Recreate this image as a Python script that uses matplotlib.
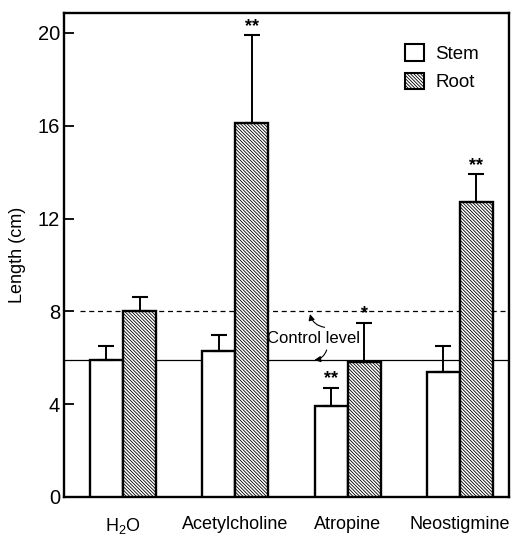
import matplotlib
matplotlib.use('agg')
import matplotlib.pyplot as plt
import numpy as np
from matplotlib.patches import Patch

plt.rcParams['font.family'] = ['Liberation Sans', 'DejaVu Sans']
plt.rcParams['mathtext.default'] = 'regular'
plt.rcParams['hatch.linewidth'] = 0.6

# data
groups = ["H$_2$O", "Acetylcholine", "Atropine", "Neostigmine"]
stem = [5.9, 6.3, 3.9, 5.4]
stem_err = [0.6, 0.7, 0.8, 1.1]
root = [8.0, 16.1, 5.8, 12.7]
root_err = [0.6, 3.8, 1.7, 1.2]
stem_marks = ["", "", "**", ""]
root_marks = ["", "**", "*", "**"]
control_stem = 5.9
control_root = 8.0

HATCH = '\\' * 10

fig = plt.figure(figsize=(5.25, 5.53), dpi=100)
ax = fig.add_axes([0.122, 0.1013, 0.8475, 0.8752])

x = np.arange(len(groups))
w = 0.294

ax.bar(x - w / 2, stem, w, color='white', edgecolor='black', linewidth=1.7,
       yerr=[np.zeros(4), stem_err], capsize=6,
       error_kw=dict(elinewidth=1.4, capthick=1.5), label='Stem', zorder=3)
ax.bar(x + w / 2, root, w, color='white', edgecolor='black', linewidth=1.7,
       hatch=HATCH, yerr=[np.zeros(4), root_err], capsize=6,
       error_kw=dict(elinewidth=1.4, capthick=1.5), label='Root', zorder=3)

# significance marks
for i in range(4):
    if stem_marks[i]:
        ax.text(x[i] - w / 2, stem[i] + stem_err[i] + 0.02, stem_marks[i],
                ha='center', va='bottom', fontsize=13, fontweight='bold')
    if root_marks[i]:
        ax.text(x[i] + w / 2, root[i] + root_err[i] + 0.02, root_marks[i],
                ha='center', va='bottom', fontsize=13, fontweight='bold')

# control levels
ax.plot([-0.52, 3.44], [control_stem, control_stem], color='black', lw=0.9, zorder=1)
ax.plot([-0.38, 3.44], [control_root, control_root], color='black', lw=0.9,
        ls=(0, (4, 3)), zorder=1)
ax.text(1.7, 6.85, "Control level", ha='center', va='center', fontsize=12)
ax.annotate("", xy=(1.66, control_root), xytext=(1.82, 7.3),
            arrowprops=dict(arrowstyle='-|>', color='black', lw=0.8,
                            connectionstyle='arc3,rad=-0.4', mutation_scale=9))
ax.annotate("", xy=(1.68, control_stem), xytext=(1.82, 6.45),
            arrowprops=dict(arrowstyle='-|>', color='black', lw=0.8,
                            connectionstyle='arc3,rad=-0.4', mutation_scale=9))

ax.set_xlim(-0.525, 3.437)
ax.set_ylim(0, 20.86)
ax.set_yticks([0, 4, 8, 12, 16, 20])
ax.set_xticks(x)
ax.set_xticklabels(groups)
ax.tick_params(axis='x', length=0, pad=14, labelsize=13)
ax.tick_params(axis='y', direction='in', length=7, width=1.3, labelsize=14.5, pad=3)
for s in ax.spines.values():
    s.set_linewidth(1.7)
ax.set_ylabel("Length (cm)", fontsize=13, labelpad=8)

handles = [Patch(facecolor='white', edgecolor='black', lw=1.5, label='Stem'),
           Patch(facecolor='white', edgecolor='black', lw=1.5, hatch=HATCH, label='Root')]
ax.legend(handles=handles, loc='upper right', bbox_to_anchor=(0.97, 0.97),
          frameon=False, fontsize=13.5, handlelength=1.0, handleheight=1.0,
          handletextpad=0.6, labelspacing=0.5)

fig.savefig("out.png", dpi=100)
